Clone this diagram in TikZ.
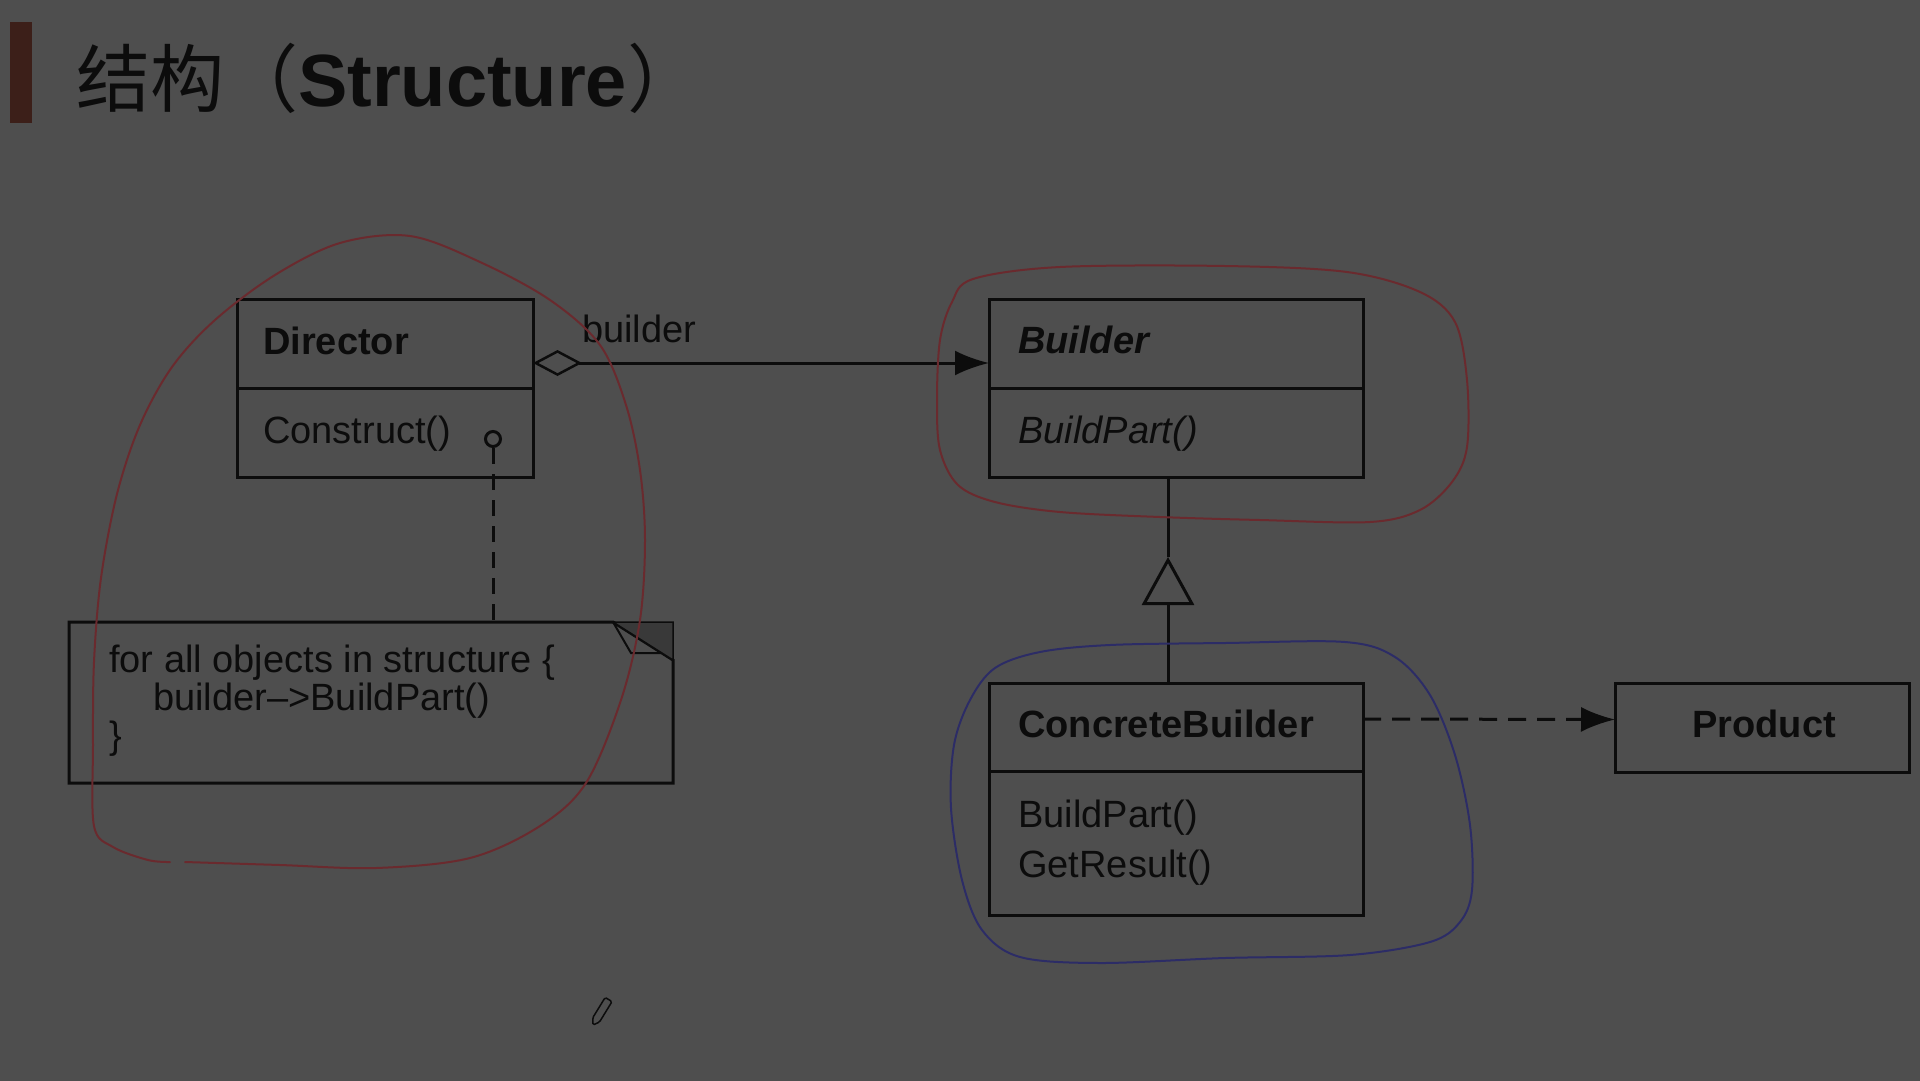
\documentclass[tikz,border=0pt]{standalone}
\usepackage{fontspec}
\setmainfont{Liberation Sans}
\newfontfamily\cjk{Noto Sans CJK SC}
\usetikzlibrary{arrows.meta,positioning,calc}

\definecolor{slidebg}{HTML}{4E4E4E}
\definecolor{ink}{HTML}{0C0C0C}
\definecolor{barbrown}{HTML}{3C1F19}
\definecolor{penred}{HTML}{6A2A2E}
\definecolor{penblue}{HTML}{2C2C66}
\definecolor{earshade}{HTML}{393939}

\tikzset{
  classbox/.style={draw=ink, line width=3pt, inner sep=0pt, outer sep=0pt},
  txt/.style={anchor=base west, inner sep=0pt, text=ink, font=\fontsize{38}{44}\selectfont},
  umlline/.style={draw=ink, line width=3pt},
  handpen/.style={line width=2pt, line cap=round, line join=round},
}

\begin{document}
\begin{tikzpicture}[x=1pt, y=-1pt]
    % Slide background
    \useasboundingbox (0,0) rectangle (1920,1080);
    \fill[slidebg] (-2,-2) rectangle (1922,1082);

    % Title
    \fill[barbrown] (10,22) rectangle (32,123);
    \node[anchor=base west, inner sep=0pt, text=ink, font=\fontsize{74}{80}\selectfont] (title) at (76,106)
        {{\cjk 结构（}\textbf{Structure}{\cjk ）}};

    % Director class
    \node[classbox, minimum width=296pt, minimum height=89pt] (dirhead) at (385,343.5) {};
    \node[classbox, minimum width=296pt, minimum height=89pt, below=0pt of dirhead] (dirops) {};
    \node[txt] (dirname) at (263,354) {\bfseries Director};
    \node[txt] (dirop) at (263,443) {Construct()};
    \node[circle, draw=ink, line width=3pt, minimum size=15pt, inner sep=0pt] (lolli) at (493,439) {};

    % Builder class
    \node[classbox, minimum width=374pt, minimum height=89pt] (bldhead) at (1176,343.5) {};
    \node[classbox, minimum width=374pt, minimum height=89pt, below=0pt of bldhead] (bldops) {};
    \node[txt] (bldname) at (1018,353) {\bfseries\itshape Builder};
    \node[txt] (bldop) at (1018,443) {\itshape BuildPart()};

    % ConcreteBuilder class
    \node[classbox, minimum width=374pt, minimum height=88pt] (cbhead) at (1176,727) {};
    \node[classbox, minimum width=374pt, minimum height=144pt, below=0pt of cbhead] (cbops) {};
    \node[txt] (cbname) at (1018,737) {\bfseries ConcreteBuilder};
    \node[txt] (cbopa) at (1018,827) {BuildPart()};
    \node[txt] (cbopb) at (1018,877) {GetResult()};

    % Product class
    \node[classbox, minimum width=294pt, minimum height=89pt] (product) at (1762,727.5) {};
    \node[txt, anchor=base] (prodname) at (1764,737) {\bfseries Product};

    % Note with folded corner
    \node[minimum width=604pt, minimum height=161pt, inner sep=0pt, outer sep=0pt] (note) at (371,702.5) {};
    \draw[umlline, line join=miter] (note.north west) -- ([xshift=-60pt]note.north east)
        -- ([yshift=-38pt]note.north east) -- (note.south east) -- (note.south west) -- cycle;
    \filldraw[fill=earshade, draw=ink, line width=1.5pt] ([xshift=-60pt]note.north east)
        -- (note.north east) -- ([yshift=-38pt]note.north east) -- cycle;
    \draw[ink, line width=2pt] ([xshift=-60pt]note.north east) -- ++(18,31) -- ++(30,0);
    \node[txt] (notea) at (109,672) {for all objects in structure \{};
    \node[txt] (noteb) at (153,710) {builder–>BuildPart()};
    \node[txt] (notec) at (109,748) {\}};

    % Aggregation Director -> Builder
    \draw[umlline, {Diamond[open, length=49pt, width=26pt, line width=2.5pt]}-{Latex[length=34pt, width=25pt]}]
        ([yshift=-19.5pt]dirhead.east) -- ([yshift=-19.5pt]bldhead.west);
    \node[txt] (agglabel) at (582,342) {builder};

    % Note link
    \draw[umlline, dash pattern=on 16pt off 10pt] (lolli.south) -- (lolli.south |- note.north);

    % Inheritance
    \coordinate (tri) at (1168,557);
    \draw[umlline] (tri |- bldops.south) -- (tri);
    \draw[umlline, -{Triangle[open, length=48pt, width=52pt, line width=3pt]}] (tri |- cbhead.north) -- (tri);

    % ConcreteBuilder creates Product
    \draw[umlline, dash pattern=on 18pt off 11pt, -{Latex[length=34pt, width=25pt]}]
        ([yshift=8pt]cbhead.east) -- ([yshift=8pt]product.west);

    % Hand-drawn marks
    \draw[penred, handpen] plot[smooth, tension=0.55] coordinates {
        (185,862) (280,865) (376,868) (470,858) (540,826) (586,783) (621,700) (640,620)
        (645,540) (640,470) (626,405) (600,345) (550,300) (480,262) (410,236) (340,243)
        (275,275) (215,320) (172,367) (140,425) (117,494) (101,578) (94,662) (93,746)
        (94,826) (113,847) (148,860) (170,862)};
    \draw[penred, handpen] plot[smooth cycle, tension=0.55] coordinates {
        (973,279) (1060,267) (1225,266) (1347,272) (1420,292) (1455,322) (1467,380)
        (1467,447) (1452,482) (1420,510) (1370,522) (1260,520) (1160,517) (1060,512)
        (995,502) (958,485) (940,450) (937,400) (940,340) (952,302)};
    \draw[penblue, handpen] plot[smooth cycle, tension=0.55] coordinates {
        (995,668) (1040,652) (1110,645) (1225,643) (1345,642) (1395,657) (1430,695)
        (1455,755) (1470,825) (1472,890) (1460,922) (1430,942) (1350,955) (1225,958)
        (1100,963) (1020,957) (982,930) (962,880) (951,808) (954,745) (970,700)};

    % Pencil cursor
    \draw[ink, line width=1.5pt, rounded corners=1.5pt] (593,1025) -- (592.7,1017.8) -- (605.2,997.4)
        -- (612,1001.6) -- (599.5,1022) -- cycle;
\end{tikzpicture}
\end{document}
